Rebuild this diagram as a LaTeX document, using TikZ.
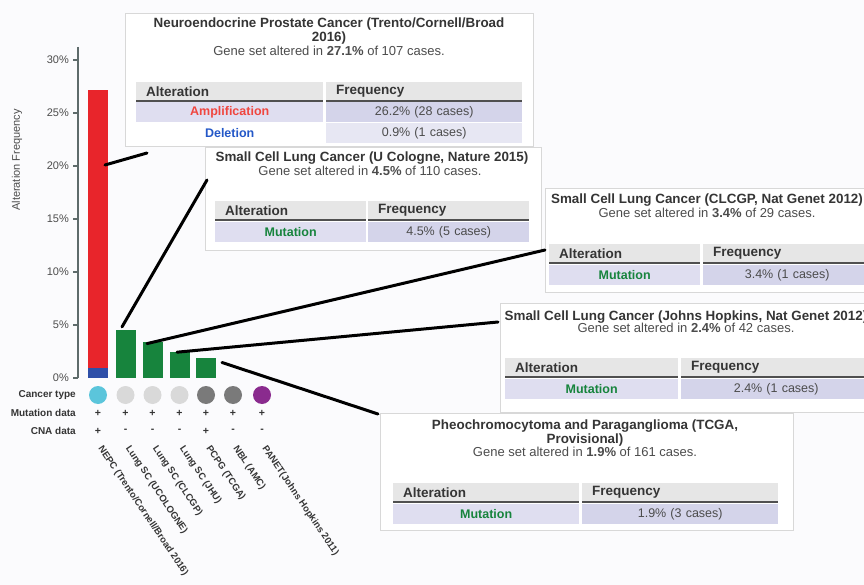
\documentclass[tikz,border=0pt]{standalone}
\usepackage{fontspec}
\setmainfont{Liberation Sans}
\usetikzlibrary{positioning}

\definecolor{bgwhite}{HTML}{FBFBFD}
\definecolor{boxline}{HTML}{D8D8D8}
\definecolor{titlegray}{HTML}{353535}
\definecolor{subgray}{HTML}{4C4C4C}
\definecolor{hdgray}{HTML}{E6E6E6}
\definecolor{hdrule}{HTML}{505050}
\definecolor{rowleft}{HTML}{DFDEF0}
\definecolor{rowright}{HTML}{D4D4EA}
\definecolor{rowlight}{HTML}{E7E7F3}
\definecolor{ampred}{HTML}{E8252B}
\definecolor{amptext}{HTML}{F0463F}
\definecolor{delblue}{HTML}{2E4FA8}
\definecolor{deltext}{HTML}{2458C8}
\definecolor{mutgreen}{HTML}{17843D}
\definecolor{axisgray}{HTML}{5E6B6B}
\definecolor{cyanc}{HTML}{5BC5DB}
\definecolor{lightc}{HTML}{D9D9D9}
\definecolor{darkc}{HTML}{7A7A7A}
\definecolor{purplec}{HTML}{8A2B8E}

\begin{document}
\begin{tikzpicture}[x=1pt, y=-1pt,
  tipbox/.style={draw=boxline, fill=white, line width=0.8pt},
  tiptitle/.style={font=\bfseries\fontsize{13.4}{12}\selectfont, text=titlegray, align=center, inner sep=0pt},
  tipsub/.style={font=\fontsize{13}{14}\selectfont, text=subgray, inner sep=0pt},
  hcell/.style={fill=hdgray, anchor=north west, minimum height=19pt, inner ysep=0pt, inner xsep=10pt, text width=#1, align=left, font=\bfseries\fontsize{13.5}{14}\selectfont, text=titlegray},
  dcell/.style={fill=rowright, anchor=north west, minimum height=20pt, inner sep=0pt, text width=#1, align=center, font=\fontsize{12.5}{13}\selectfont, text=subgray},
  hdline/.style={line width=2pt, draw=hdrule},
  bar/.style={anchor=south, minimum width=20pt, inner sep=0pt},
  link/.style={line width=3pt, line cap=round},
  axisline/.style={draw=axisgray, line width=1.2pt},
  ticklab/.style={anchor=east, font=\fontsize{11}{12}\selectfont, text=subgray, inner sep=0pt},
  rowlab/.style={anchor=east, font=\bfseries\fontsize{10}{11}\selectfont, text=titlegray, inner sep=0pt},
  ctdot/.style={circle, minimum size=18pt, inner sep=0pt},
  pm/.style={font=\bfseries\fontsize{10.5}{11}\selectfont, text=titlegray, inner sep=0pt},
  rotlab/.style={anchor=west, rotate=-56, font=\bfseries\fontsize{9.5}{10}\selectfont, text=titlegray, inner sep=0pt}]
\useasboundingbox (0,0) rectangle (864,585);
\clip (0,0) rectangle (864,585);
\fill[bgwhite] (0,0) rectangle (864,585);

% y axis
\draw[axisline] (78,47) -- (78,378);
\foreach \v in {0,5,...,30} {
  \draw[axisline] (73,{378-10.6*\v}) -- (78,{378-10.6*\v});
  \node[ticklab] (tick\v) at (69,{378-10.6*\v}) {\v\%};
}
\node[rotate=90, font=\fontsize{11}{12}\selectfont, text=subgray] (ylab) at (17,160) {Alteration Frequency};

% bars
\node[bar, fill=delblue, minimum height=9.5] (del) at (98,378) {};
\node[bar, fill=ampred, minimum height=277.7] (amp) at (del.north) {};
\foreach \x/\h [count=\i from 2] in {125.5/47.7, 152.5/36, 179.5/25.4, 206/20.1}
  \node[bar, fill=mutgreen, minimum height=\h] (bar\i) at (\x,378) {};

% tracks below the bars
\node[rowlab] (ctype) at (76,395) {Cancer type};
\node[rowlab] (mutdata) at (76,413) {Mutation data};
\node[rowlab] (cnadata) at (76,431) {CNA data};
\foreach \x/\col/\cna/\lab [count=\i] in {98/cyanc/+/{NEPC (Trento/Cornell/Broad 2016)},
    125.5/lightc/-/{Lung SC (UCOLOGNE)}, 152.5/lightc/-/{Lung SC (CLCGP)},
    179.5/lightc/-/{Lung SC (JHU)}, 206/darkc/+/{PCPG (TCGA)},
    233/darkc/-/{NBL (AMC)}, 262/purplec/-/{PANET(Johns Hopkins 2011)}} {
  \node[ctdot, fill=\col] (dot\i) at (\x,395) {};
  \node[pm] (mut\i) at (\x,413) {+};
  \node[pm] (cna\i) at (\x,431) {\cna};
  \node[rotlab] (name\i) at (\x+2,447) {\lab};
}

% NEPC tooltip
\draw[tipbox] (125,13) rectangle (533,146);
\node[tiptitle] (nepctitle) at (329,31) {Neuroendocrine Prostate Cancer (Trento/Cornell/Broad\\2016)};
\node[tipsub] (nepcsub) at (329,51) {Gene set altered in \textbf{27.1\%} of 107 cases.};
\node[hcell=167pt] (nepcalt) at (136,82) {Alteration};
\node[hcell=176pt] (nepcfreq) at (326,82) {Frequency};
\draw[hdline] (nepcalt.south west) -- (nepcalt.south east) (nepcfreq.south west) -- (nepcfreq.south east);
\node[dcell=187pt, fill=rowleft, text=amptext] (nepcamp) at (136,102) {\bfseries Amplification};
\node[dcell=196pt] (nepcampf) at (326,102) {26.2\% (28 cases)};
\node[dcell=187pt, fill=white, text=deltext] (nepcdel) at (136,123) {\bfseries Deletion};
\node[dcell=196pt, fill=rowlight] (nepcdelf) at (326,123) {0.9\% (1 cases)};

% U Cologne tooltip
\draw[tipbox] (205,147) rectangle (541,250);
\node[tiptitle] (uctitle) at (372,158) {Small Cell Lung Cancer (U Cologne, Nature 2015)};
\node[tipsub] (ucsub) at (370,171) {Gene set altered in \textbf{4.5\%} of 110 cases.};
\node[hcell=131pt] (ucalt) at (215,201) {Alteration};
\node[hcell=141pt] (ucfreq) at (368,201) {Frequency};
\draw[hdline] (ucalt.south west) -- (ucalt.south east) (ucfreq.south west) -- (ucfreq.south east);
\node[dcell=151pt, fill=rowleft, text=mutgreen] (ucmut) at (215,222) {\bfseries Mutation};
\node[dcell=161pt] (ucmutf) at (368,222) {4.5\% (5 cases)};

% CLCGP tooltip
\draw[tipbox] (545,188) rectangle (872,292);
\node[tiptitle] (cltitle) at (707,200) {Small Cell Lung Cancer (CLCGP, Nat Genet 2012)};
\node[tipsub] (clsub) at (707,213) {Gene set altered in \textbf{3.4\%} of 29 cases.};
\node[hcell=131pt] (clalt) at (549,244) {Alteration};
\node[hcell=148pt] (clfreq) at (703,244) {Frequency};
\draw[hdline] (clalt.south west) -- (clalt.south east) (clfreq.south west) -- (clfreq.south east);
\node[dcell=151pt, fill=rowleft, text=mutgreen] (clmut) at (549,265) {\bfseries Mutation};
\node[dcell=168pt] (clmutf) at (703,265) {3.4\% (1 cases)};

% JHU tooltip
\draw[tipbox] (500,303) rectangle (872,412);
\node[tiptitle] (jhtitle) at (686,317) {Small Cell Lung Cancer (Johns Hopkins, Nat Genet 2012)};
\node[tipsub] (jhsub) at (686,328) {Gene set altered in \textbf{2.4\%} of 42 cases.};
\node[hcell=153pt] (jhalt) at (505,358) {Alteration};
\node[hcell=170pt] (jhfreq) at (681,358) {Frequency};
\draw[hdline] (jhalt.south west) -- (jhalt.south east) (jhfreq.south west) -- (jhfreq.south east);
\node[dcell=173pt, fill=rowleft, text=mutgreen] (jhmut) at (505,379) {\bfseries Mutation};
\node[dcell=190pt] (jhmutf) at (681,379) {2.4\% (1 cases)};

% PCPG tooltip
\draw[tipbox] (380,413) rectangle (793,530);
\node[tiptitle] (pctitle) at (585,433) {Pheochromocytoma and Paraganglioma (TCGA,\\Provisional)};
\node[tipsub] (pcsub) at (585,452) {Gene set altered in \textbf{1.9\%} of 161 cases.};
\node[hcell=166pt] (pcalt) at (393,483) {Alteration};
\node[hcell=176pt] (pcfreq) at (582,483) {Frequency};
\draw[hdline] (pcalt.south west) -- (pcalt.south east) (pcfreq.south west) -- (pcfreq.south east);
\node[dcell=186pt, fill=rowleft, text=mutgreen] (pcmut) at (393,504) {\bfseries Mutation};
\node[dcell=196pt] (pcmutf) at (582,504) {1.9\% (3 cases)};

% connectors
\coordinate (e1) at (147,153);
\coordinate (e2) at (207,180);
\coordinate (e3) at (545,250);
\coordinate (e4) at (498,322);
\coordinate (e5) at (378,414);
\draw[link] ([xshift=7pt,yshift=-75pt]amp.north) -- (e1);
\draw[link] ([xshift=-3.5pt,yshift=3pt]bar2.north) -- (e2);
\draw[link] ([xshift=-5.5pt,yshift=-2pt]bar3.north) -- (e3);
\draw[link] ([xshift=-2.5pt]bar4.north) -- (e4);
\draw[link] ([xshift=16pt,yshift=-5pt]bar5.north) -- (e5);
\end{tikzpicture}
\end{document}
